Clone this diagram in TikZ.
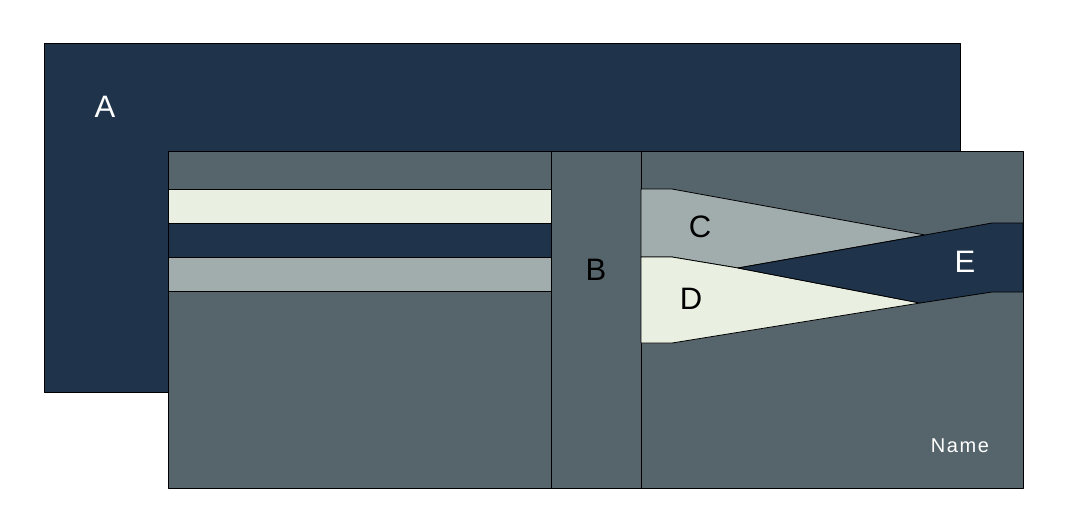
\documentclass[tikz,border=0pt]{standalone}
\usepackage{fontspec}
\setmainfont{Liberation Sans}
\definecolor{navy}{HTML}{1F344B}
\definecolor{slate}{HTML}{56646B}
\definecolor{cream}{HTML}{EAF0E1}
\definecolor{silver}{HTML}{A1ACAC}
\begin{document}
\begin{tikzpicture}[x=1pt, y=-1pt, line join=round, line width=0.8pt,
  lbl/.style={font=\fontsize{31}{31}\selectfont}]
\useasboundingbox (0,0) rectangle (1067,531);
\path
(641,189) coordinate (C1)
(672,189) coordinate (C2)
(925,235) coordinate (X)
(738,268) coordinate (M)
(672,257) coordinate (C3)
(641,257) coordinate (C4)
(992,223) coordinate (E1)
(1023,223) coordinate (E2)
(1023,292) coordinate (E3)
(992,292) coordinate (E4)
(920,303) coordinate (Y)
(672,343) coordinate (D1)
(641,343) coordinate (D2);
% back flap and wallet body
\filldraw[fill=navy] (44,43) rectangle (960,392);
\filldraw[fill=slate] (168,151) rectangle (1023,488);
% card slots
\foreach \y/\c in {189/cream,223/navy,257/silver} \filldraw[fill=\c] (168,\y) rectangle (551,\y+34);
\draw (551,151)--(551,488) (641,151)--(641,488);
% right pockets
\filldraw[fill=silver] (C1)--(C2)--(X)--(M)--(C3)--(C4)--cycle;
\filldraw[fill=cream] (C4)--(C3)--(M)--(Y)--(D1)--(D2)--cycle;
\filldraw[fill=navy] (M)--(X)--(E1)--(E2)--(E3)--(E4)--(Y)--cycle;
% labels
\node[lbl, white] (a) at (105,107) {A};
\node[lbl] (b) at (596,270) {B};
\node[lbl] (c) at (700,227) {C};
\node[lbl] (d) at (691,299) {D};
\node[lbl, white] (e) at (965,262) {E};
\node[white, font=\fontsize{20}{20}\selectfont\addfontfeature{LetterSpace=8}] (name) at (960,446) {Name};
\end{tikzpicture}
\end{document}
